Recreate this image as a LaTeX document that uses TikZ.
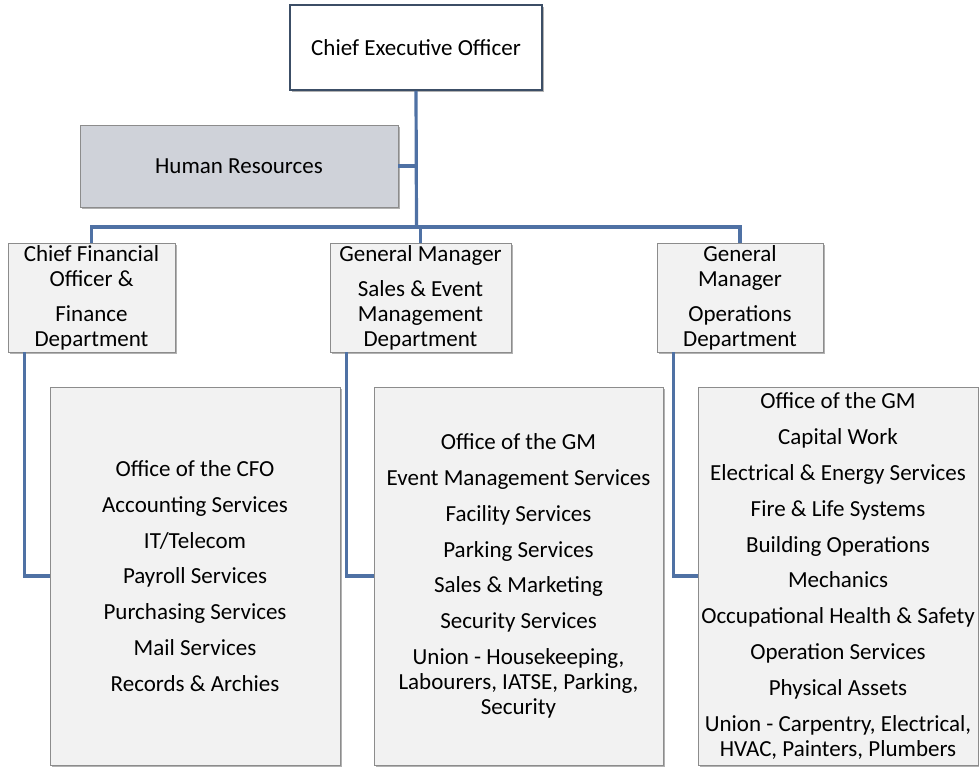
\documentclass[tikz,border=0pt]{standalone}
\usepackage{fontspec}
\setmainfont{Carlito}
\usetikzlibrary{shadows,calc}
\definecolor{linkblue}{HTML}{4F71A4}
\definecolor{ceoborder}{HTML}{3C4E66}
\definecolor{hrfill}{HTML}{CFD2D9}
\definecolor{boxfill}{HTML}{F2F2F2}
\definecolor{boxborder}{HTML}{8C8C8C}
\tikzset{
  base/.style={rectangle, align=center, inner sep=0pt, font=\fontsize{23}{25}\selectfont,
    drop shadow={shadow xshift=2pt, shadow yshift=-2pt, opacity=0.3, fill=black}},
  ceobox/.style={base, draw=ceoborder, line width=1.6pt, fill=white},
  hrbox/.style={base, draw=boxborder, line width=0.8pt, fill=hrfill},
  mgrbox/.style={base, draw=boxborder, line width=0.8pt, fill=boxfill},
  listbox/.style={base, draw=boxborder, line width=0.8pt, fill=boxfill},
  link/.style={draw=linkblue, line width=3.2pt}
}
\begin{document}
\begin{tikzpicture}[x=1pt,y=-1pt]
\useasboundingbox (0,0) rectangle (979,766);
% boxes
\node[ceobox, minimum width=252pt, minimum height=85pt] (ceo) at (416,47.5) {Chief Executive Officer};
\node[hrbox, minimum width=318pt, minimum height=82pt] (hr) at (239,166) {Human Resources};
\node[mgrbox, minimum width=167pt, minimum height=109pt] (cfo) at (91.5,297.5)
  {Chief Financial\\Officer \&\\[10pt]Finance\\Department};
\node[mgrbox, minimum width=181pt, minimum height=109pt] (sales) at (420.5,297.5)
  {General Manager\\[10pt]Sales \& Event\\Management\\Department};
\node[mgrbox, minimum width=166pt, minimum height=109pt] (ops) at (740,297.5)
  {General\\Manager\\[10pt]Operations\\Department};
\node[listbox, minimum width=290pt, minimum height=378pt] (cfolist) at (195,576)
  {Office of the CFO\\[10.8pt]Accounting Services\\[10.8pt]IT/Telecom\\[10.8pt]Payroll Services\\[10.8pt]Purchasing Services\\[10.8pt]Mail Services\\[10.8pt]Records \& Archies};
\node[listbox, minimum width=289pt, minimum height=378pt] (saleslist) at (518.5,576)
  {Office of the GM\\[10.8pt]Event Management Services\\[10.8pt]Facility Services\\[10.8pt]Parking Services\\[10.8pt]Sales \& Marketing\\[10.8pt]Security Services\\[10.8pt]Union - Housekeeping,\\Labourers, IATSE, Parking,\\Security};
\node[listbox, minimum width=280pt, minimum height=378pt] (opslist) at (838,576)
  {Office of the GM\\[10.8pt]Capital Work\\[10.8pt]Electrical \& Energy Services\\[10.8pt]Fire \& Life Systems\\[10.8pt]Building Operations\\[10.8pt]Mechanics\\[10.8pt]Occupational Health \& Safety\\[10.8pt]Operation Services\\[10.8pt]Physical Assets\\[10.8pt]Union - Carpentry, Electrical,\\HVAC, Painters, Plumbers};
% connectors
\coordinate (bus) at (416.5,227);
\draw[link] (ceo.south) -- (bus);
\draw[link] (hr.east) -- (hr.east -| bus);
\draw[link] (cfo.north) |- (bus) -| (ops.north);
\draw[link] (sales.north) -- (sales.north |- bus);
\draw[link] ($(cfo.south west)+(17,0)$) |- (cfolist.west);
\draw[link] ($(sales.south west)+(17,0)$) |- (saleslist.west);
\draw[link] ($(ops.south west)+(17,0)$) |- (opslist.west);
\end{tikzpicture}
\end{document}
